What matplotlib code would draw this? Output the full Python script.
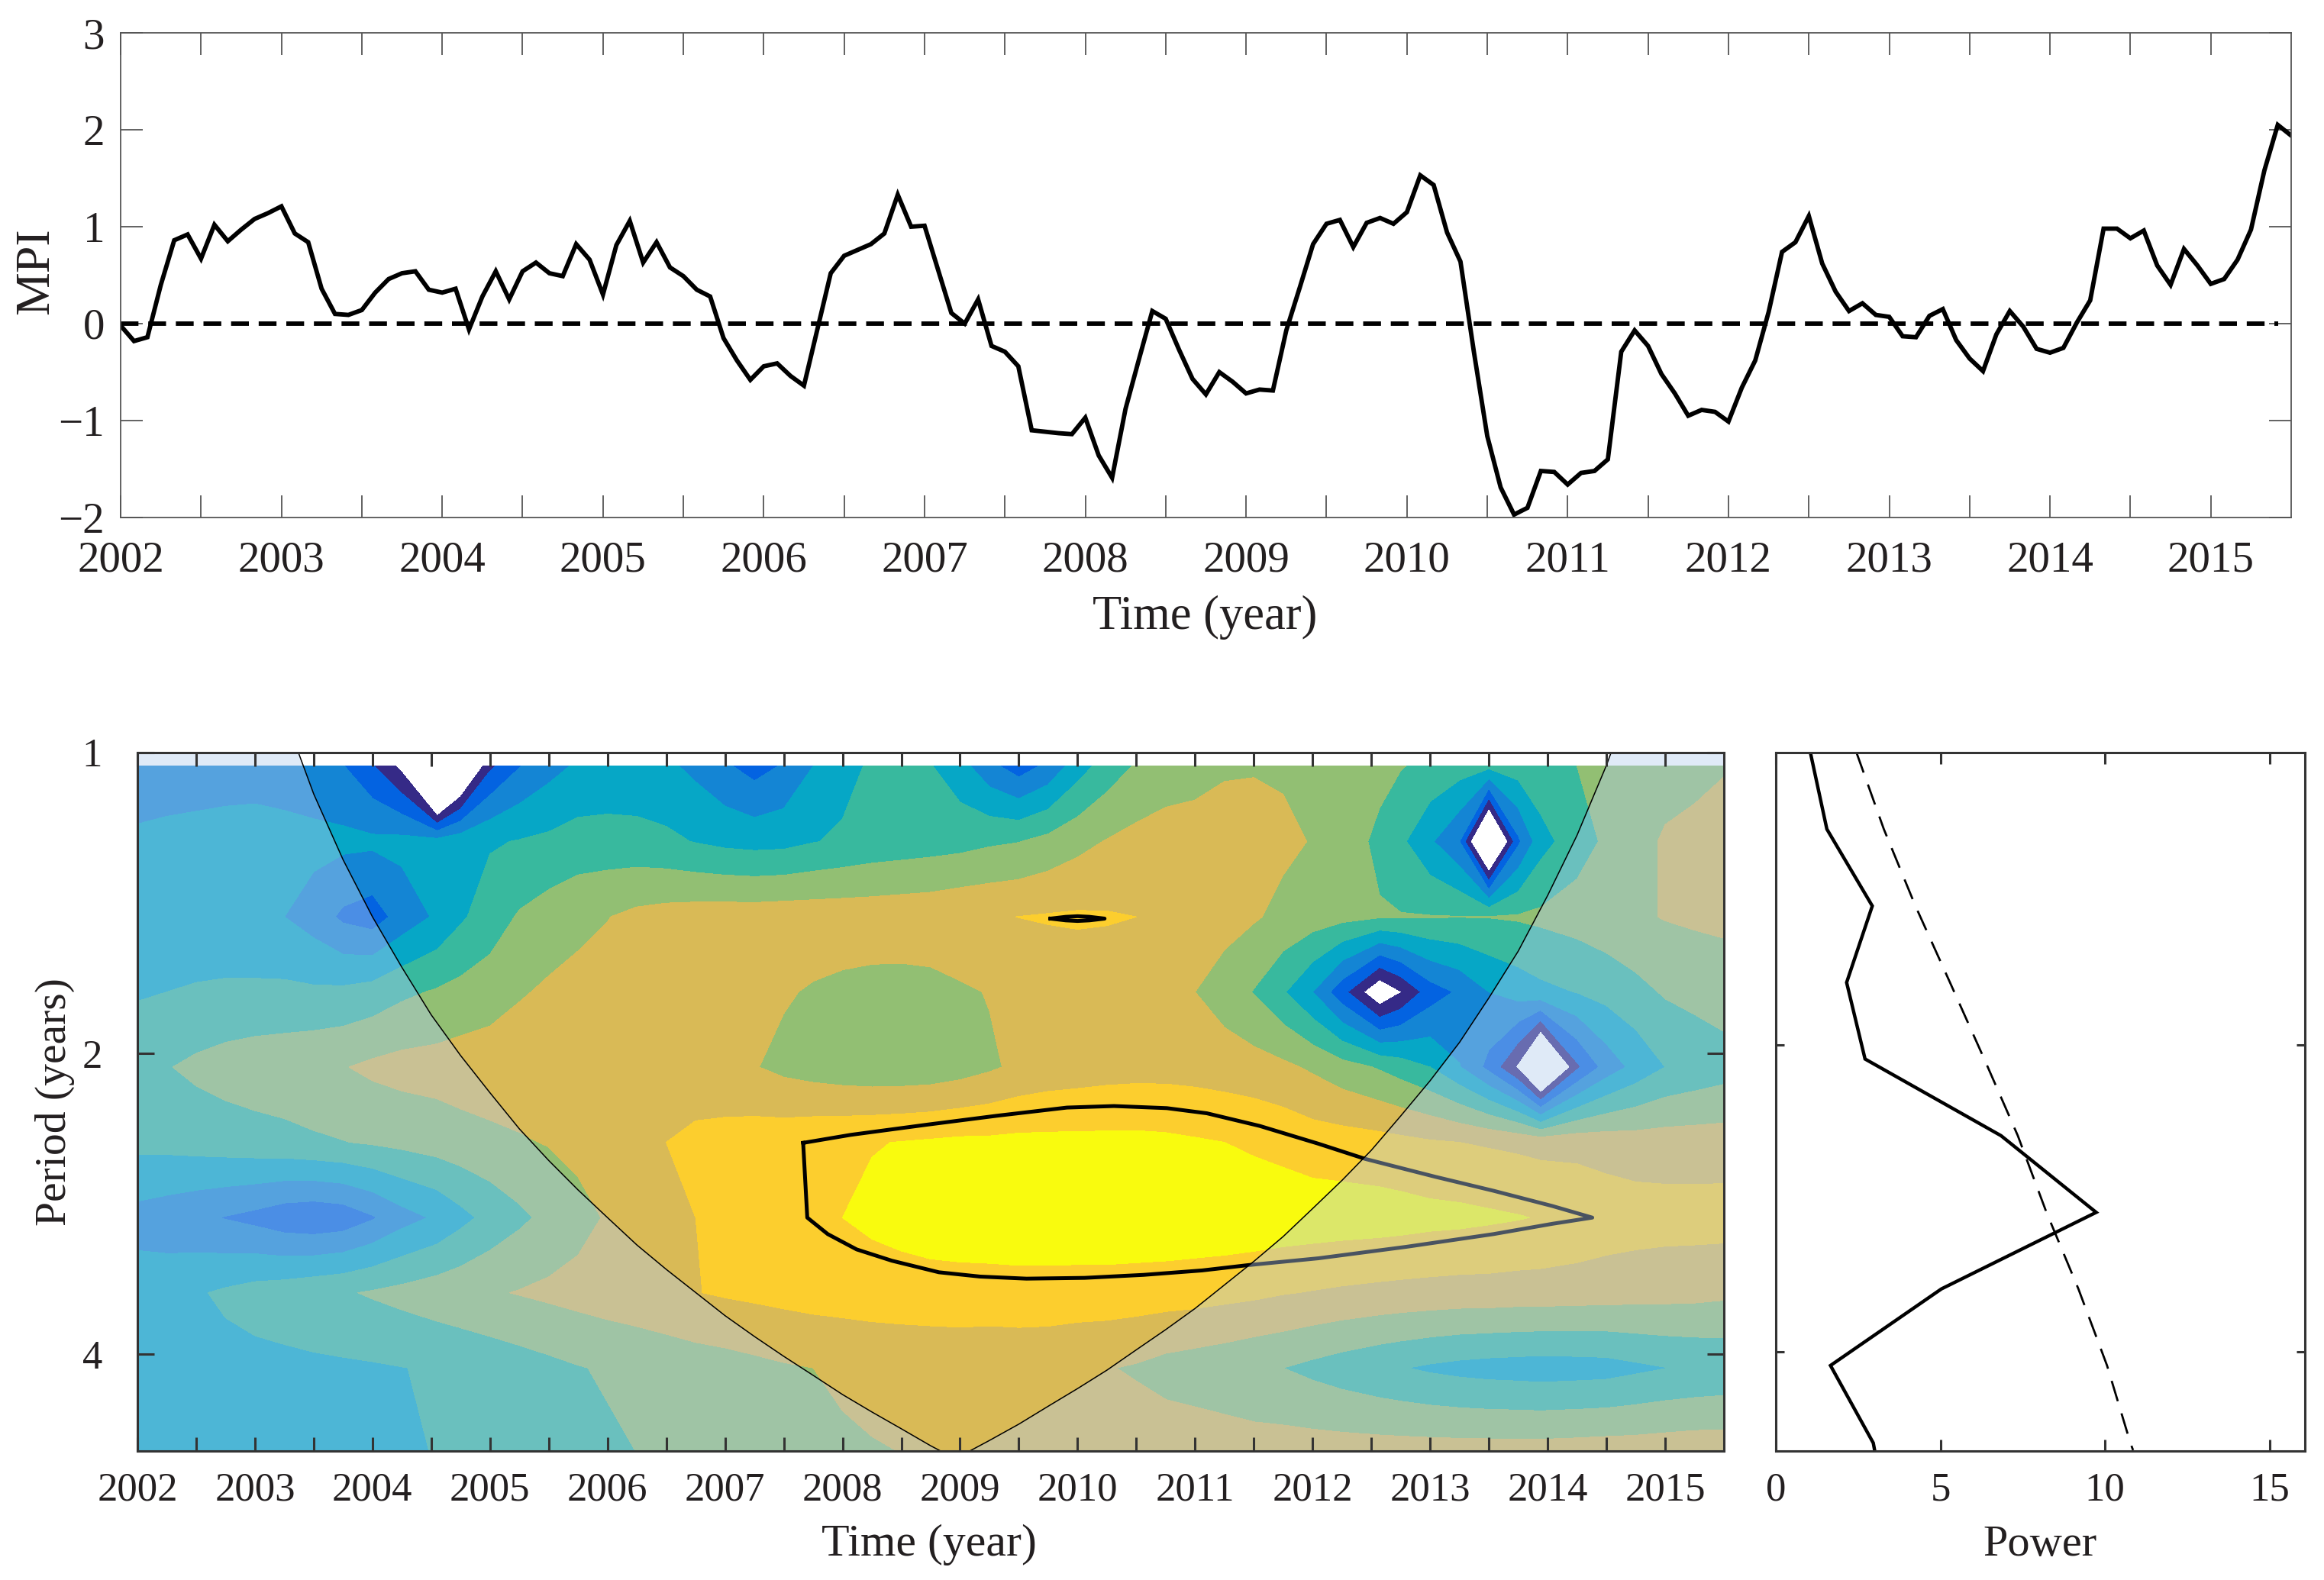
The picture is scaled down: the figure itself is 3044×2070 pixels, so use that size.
#!/usr/bin/env python3
"""MPI time series with its wavelet power spectrum and global power."""

import numpy as np
import matplotlib
matplotlib.use('Agg')
import matplotlib.pyplot as plt

W, H = 3044, 2070
plt.rcParams['font.family'] = ['Liberation Serif', 'DejaVu Serif']

TEXT = '#231f20'

# monthly MPI, 2002-01 onwards
mpi = [
    -0.02, -0.18, -0.14, 0.40, 0.86, 0.92, 0.67, 1.02, 0.85, 0.97, 1.08, 1.14,
    1.21, 0.93, 0.84, 0.36, 0.10, 0.09, 0.14, 0.32, 0.46, 0.52, 0.54, 0.35,
    0.32, 0.36, -0.06, 0.28, 0.54, 0.25, 0.54, 0.63, 0.52, 0.49, 0.82, 0.66,
    0.30, 0.81, 1.06, 0.63, 0.84, 0.58, 0.49, 0.35, 0.28, -0.15, -0.38, -0.58,
    -0.44, -0.41, -0.54, -0.64, -0.06, 0.52, 0.70, 0.76, 0.82, 0.93, 1.33, 1.00,
    1.01, 0.56, 0.11, 0.00, 0.25, -0.23, -0.29, -0.44, -1.10, -1.115, -1.13, -1.14,
    -0.97, -1.36, -1.59, -0.88, -0.37, 0.13, 0.05, -0.27, -0.57, -0.73, -0.50, -0.60,
    -0.72, -0.68, -0.69, -0.07, 0.37, 0.82, 1.03, 1.07, 0.79, 1.04, 1.09, 1.03,
    1.15, 1.53, 1.43, 0.94, 0.64, -0.29, -1.16, -1.69, -1.97, -1.90, -1.52, -1.53,
    -1.66, -1.54, -1.52, -1.40, -0.29, -0.07, -0.23, -0.52, -0.72, -0.95, -0.89, -0.91,
    -1.01, -0.66, -0.38, 0.12, 0.74, 0.84, 1.11, 0.62, 0.33, 0.13, 0.21, 0.09,
    0.07, -0.13, -0.14, 0.08, 0.15, -0.17, -0.36, -0.49, -0.11, 0.13, -0.03, -0.26,
    -0.30, -0.25, 0.01, 0.24, 0.98, 0.98, 0.88, 0.96, 0.60, 0.40, 0.77, 0.60,
    0.41, 0.46, 0.66, 0.97, 1.58, 2.05, 1.94,
]

# wavelet power grid (log2 power), one row per period
grid_time = [
    2002.0, 2002.25, 2002.5, 2002.75, 2003.0, 2003.25, 2003.5, 2003.75,
    2004.0, 2004.25, 2004.55, 2004.75, 2005.0, 2005.25, 2005.5, 2005.75,
    2006.0, 2006.25, 2006.5, 2006.75, 2007.0, 2007.25, 2007.5, 2007.75,
    2008.0, 2008.25, 2008.5, 2008.75, 2009.0, 2009.25, 2009.5, 2009.75,
    2010.0, 2010.25, 2010.5, 2010.75, 2011.0, 2011.25, 2011.5, 2011.75,
    2012.0, 2012.25, 2012.57, 2012.75, 2013.0, 2013.25, 2013.5, 2013.75,
    2013.94, 2014.25, 2014.5, 2014.75, 2015.0, 2015.25, 2015.5,
]
grid_period = [1.032, 1.227, 1.46, 1.736, 2.064, 2.455, 2.92, 3.472, 4.129, 5.03]

row_0 = [-1.5, -1.5, -1.45, -1.4, -1.4, -1.5, -1.7, -1.95,
         -2.9, -4.3, -10.6, -6.5, -3.2, -2.05, -1.35, -0.85,
         -0.7, -0.7, -0.8, -1.25, -1.85, -2.4, -1.9, -1.0,
         -0.35, 0.15, 0.2, 0.05, -0.6, -1.7, -2.5, -1.75,
         -0.45, 0.45, 1.1, 1.4, 1.55, 1.86, 1.92, 1.88,
         1.6, 1.4, 1.25, 1.05, 0.75, 0.45, 0.25, 0.5,
         0.7, 1.0, 1.3, 1.5, 1.65, 1.8, 1.95]
row_1 = [-0.85, -0.75, -0.7, -0.65, -0.6, -0.65, -0.7, -0.75,
         -0.8, -0.7, -0.6, -0.35, -0.1, 0.05, 0.2, 0.4,
         0.4, 0.35, 0.2, -0.05, -0.25, -0.35, -0.3, -0.05,
         0.15, 0.35, 0.45, 0.55, 0.65, 0.85, 0.97, 1.3,
         1.7, 2.05, 2.3, 2.5, 2.55, 2.55, 2.45, 2.2,
         1.95, 1.45, 0.8, 0.2, -0.85, -2.0, -7.4, -2.2,
         -0.4, 0.6, 1.15, 1.7, 2.1, 2.2, 2.3]
row_2 = [-0.75, -0.7, -0.7, -0.8, -0.9, -1.0, -1.45, -2.2,
         -2.5, -1.6, -0.85, -0.15, 0.5, 1.1, 1.45, 1.75,
         1.97, 2.25, 2.4, 2.5, 2.55, 2.55, 2.6, 2.6,
         2.6, 2.6, 2.65, 2.7, 2.85, 2.92, 3.01, 3.08,
         3.12, 3.08, 3.0, 2.85, 2.6, 2.35, 2.1, 1.75,
         1.5, 1.3, 1.08, 1.05, 1.04, 1.02, 1.03, 1.1,
         1.2, 1.4, 1.6, 1.85, 2.05, 2.15, 2.2]
row_3 = [-0.1, 0.0, 0.1, 0.18, 0.2, 0.2, 0.15, 0.2,
         0.4, 0.8, 1.1, 1.3, 1.5, 1.9, 2.15, 2.3,
         2.4, 2.4, 2.35, 2.3, 2.25, 2.15, 2.1, 1.9,
         1.75, 1.65, 1.6, 1.65, 1.85, 2.05, 2.15, 2.3,
         2.4, 2.4, 2.35, 2.2, 2.0, 1.55, 0.95, 0.1,
         -1.0, -2.65, -5.0, -4.05, -2.5, -1.85, -1.0, -0.55,
         -0.25, 0.03, 0.35, 0.7, 1.1, 1.3, 1.5]
row_4 = [0.7, 0.95, 1.2, 1.4, 1.55, 1.65, 1.8, 1.95,
         2.2, 2.35, 2.4, 2.5, 2.6, 2.65, 2.7, 2.7,
         2.7, 2.65, 2.6, 2.5, 2.3, 2.05, 1.75, 1.55,
         1.4, 1.3, 1.3, 1.35, 1.55, 1.85, 2.2, 2.4,
         2.5, 2.6, 2.65, 2.65, 2.6, 2.5, 2.4, 2.2,
         1.85, 1.4, 0.9, 0.55, 0.0, -0.95, -2.3, -4.2,
         -7.5, -3.2, -1.6, -0.7, 0.0, 0.3, 0.55]
row_5 = [0.25, 0.3, 0.4, 0.5, 0.6, 0.7, 0.85, 0.97,
         1.1, 1.25, 1.45, 1.6, 1.75, 1.9, 2.05, 2.3,
         2.6, 2.8, 3.0, 3.2, 3.35, 3.5, 3.6, 3.75,
         3.85, 3.95, 4.03, 4.12, 4.2, 4.2, 4.25, 4.25,
         4.25, 4.25, 4.25, 4.2, 4.1, 4.0, 3.85, 3.7,
         3.5, 3.45, 3.35, 3.25, 3.1, 3.0, 2.9, 2.8,
         2.7, 2.7, 2.6, 2.5, 2.5, 2.5, 2.5]
row_6 = [-1.35, -1.55, -1.8, -2.05, -2.3, -2.65, -2.8, -2.65,
         -2.1, -1.4, -0.85, -0.3, 0.3, 0.8, 1.25, 1.65,
         2.1, 2.4, 2.7, 3.0, 3.3, 3.55, 3.75, 3.9,
         4.0, 4.2, 4.4, 4.55, 4.65, 4.7, 4.7, 4.7,
         4.75, 4.75, 4.75, 4.75, 4.7, 4.7, 4.65, 4.6,
         4.55, 4.5, 4.45, 4.4, 4.3, 4.25, 4.15, 4.05,
         3.95, 3.75, 3.55, 3.45, 3.4, 3.4, 3.41]
row_7 = [-0.55, -0.4, -0.1, 0.15, 0.4, 0.55, 0.75, 0.9,
         1.1, 1.3, 1.55, 1.7, 1.9, 2.05, 2.2, 2.35,
         2.5, 2.65, 2.8, 2.97, 3.1, 3.2, 3.3, 3.4,
         3.45, 3.5, 3.5, 3.55, 3.55, 3.55, 3.6, 3.6,
         3.55, 3.55, 3.5, 3.45, 3.4, 3.3, 3.2, 3.05,
         2.95, 2.85, 2.75, 2.7, 2.65, 2.6, 2.6, 2.55,
         2.55, 2.5, 2.45, 2.4, 2.35, 2.3, 2.2]
row_8 = [-0.4, -0.35, -0.3, -0.3, -0.3, -0.25, -0.2, -0.15,
         -0.1, -0.02, 0.1, 0.2, 0.35, 0.55, 0.75, 0.95,
         1.1, 1.2, 1.35, 1.5, 1.6, 1.75, 1.9, 2.0,
         2.1, 2.2, 2.3, 2.3, 2.35, 2.3, 2.3, 2.25,
         2.15, 2.05, 1.9, 1.65, 1.5, 1.35, 1.15, 1.0,
         0.75, 0.5, 0.2, 0.05, -0.15, -0.3, -0.4, -0.45,
         -0.5, -0.45, -0.4, -0.2, -0.02, 0.1, 0.2]
row_9 = [-0.55, -0.55, -0.55, -0.55, -0.5, -0.5, -0.45, -0.45,
         -0.4, -0.3, 0.08, 0.1, 0.25, 0.4, 0.55, 0.7,
         0.85, 1.0, 1.2, 1.35, 1.5, 1.6, 1.75, 1.85,
         1.9, 1.95, 2.0, 2.15, 2.3, 2.4, 2.4, 2.5,
         2.5, 2.5, 2.55, 2.6, 2.6, 2.55, 2.5, 2.5,
         2.5, 2.5, 2.5, 2.5, 2.5, 2.5, 2.5, 2.5,
         2.5, 2.55, 2.6, 2.6, 2.65, 2.7, 2.7]

power_levels = [-4, -3, -2, -1, 0, 1, 2, 3, 4]
level_colors = ['#ffffff', '#352a87', '#0363e1', '#1485d4', '#06a7c6',
                '#38b99e', '#92bf73', '#d9ba56', '#fcce2e', '#f9fb0e']

# 95% significance contour
sig_time = [2007.665, 2007.70, 2007.874, 2008.12, 2008.42, 2008.82, 2009.17, 2009.565,
            2010.06, 2010.56, 2011.06, 2011.45, 2012.05, 2012.80, 2013.54, 2014.04,
            2014.38, 2014.04, 2013.54, 2013.045, 2012.45, 2012.05, 2011.55, 2011.10,
            2010.76, 2010.31, 2009.91, 2009.315, 2008.72, 2008.07, 2007.665]
sig_period = [2.458, 2.920, 3.033, 3.142, 3.225, 3.312, 3.345, 3.361,
              3.355, 3.332, 3.298, 3.258, 3.207, 3.123, 3.033, 2.962,
              2.920, 2.843, 2.745, 2.658, 2.551, 2.463, 2.364, 2.296,
              2.269, 2.258, 2.266, 2.309, 2.357, 2.413, 2.458]
blip_time = [2009.77, 2009.9, 2010.0, 2010.1, 2010.23, 2010.1, 2010.0, 2009.9, 2009.77]
blip_period = [1.466, 1.46, 1.458, 1.46, 1.466, 1.472, 1.474, 1.472, 1.466]

# cone of influence
coi_time = [2003.37, 2003.5, 2003.75, 2004.0, 2004.25, 2004.5, 2004.75, 2005.0,
            2005.25, 2005.5, 2005.75, 2006.0, 2006.25, 2006.5, 2006.75, 2007.0,
            2007.25, 2007.5, 2007.75, 2008.0, 2008.25, 2008.5, 2008.75, 2008.96,
            2009.0, 2009.25, 2009.5, 2009.75, 2010.0, 2010.25, 2010.5, 2010.75,
            2011.0, 2011.25, 2011.5, 2011.75, 2012.0, 2012.25, 2012.5, 2012.75,
            2013.0, 2013.25, 2013.5, 2013.75, 2014.0, 2014.25, 2014.5, 2014.54]
coi_period = [1.00, 1.10, 1.28, 1.46, 1.64, 1.83, 2.01, 2.19,
              2.38, 2.56, 2.74, 2.92, 3.11, 3.29, 3.47, 3.66,
              3.84, 4.02, 4.20, 4.39, 4.57, 4.75, 4.94, 5.09,
              5.06, 4.88, 4.70, 4.51, 4.33, 4.15, 3.96, 3.78,
              3.60, 3.41, 3.23, 3.05, 2.86, 2.68, 2.50, 2.31,
              2.13, 1.95, 1.76, 1.58, 1.39, 1.21, 1.03, 1.00]

# global wavelet spectrum
global_period = [1.032, 1.227, 1.46, 1.736, 2.064, 2.455, 2.92, 3.472, 4.129, 4.92, 5.0]
global_power = [1.05, 1.55, 2.93, 2.15, 2.71, 6.84, 9.73, 5.03, 1.66, 2.96, 3.0]
global_signif = [2.45, 3.28, 4.24, 5.29, 6.33, 7.35, 8.22, 9.19, 10.06, 10.77, 10.85]

year_ticks = list(range(2002, 2016))
half_ticks = [y + 0.5 for y in range(2002, 2016)]


def px_axes(fig, left, right, top, bottom):
    return fig.add_axes([left / W, 1 - bottom / H, (right - left) / W, (bottom - top) / H])


def style_axes(ax, color, lw, xlen, ylen, size, xpad, ypad):
    ax.tick_params(axis='both', which='both', direction='in', top=True, right=True,
                   width=lw, color=color, labelsize=size, labelcolor=TEXT)
    ax.tick_params(axis='x', which='both', length=xlen, pad=xpad)
    ax.tick_params(axis='y', which='both', length=ylen, pad=ypad)
    for spine in ax.spines.values():
        spine.set_linewidth(lw)
        spine.set_color(color)


fig = plt.figure(figsize=(W / 100, H / 100), dpi=100)

# top: MPI series
ax1 = px_axes(fig, 158, 3001, 43, 678)
t_month = 2002 + np.arange(len(mpi)) / 12
ax1.plot(t_month, mpi, color='black', linewidth=4.2, solid_joinstyle='miter')
ax1.plot([2002, 2015.42], [0, 0], color='black', linewidth=4.2, dashes=(4.0, 2.2))
ax1.set_xlim(2002, 2015.5)
ax1.set_ylim(-2, 3)
ax1.set_xticks(year_ticks)
ax1.set_xticks(half_ticks[:-1], minor=True)
ax1.set_yticks([-2, -1, 0, 1, 2, 3])
ax1.set_yticklabels(['\u22122', '\u22121', '0', '1', '2', '3'])
style_axes(ax1, '#555555', 1.3, 21, 21, 41, 22, 15)

# bottom left: wavelet power
ax2 = px_axes(fig, 180, 2258, 986, 1901)
power = np.array([row_0, row_1, row_2, row_3, row_4, row_5, row_6, row_7, row_8, row_9])
ax2.contourf(grid_time, np.log2(grid_period), power, levels=power_levels,
             colors=level_colors, extend='both', zorder=1)
ax2.plot(sig_time, np.log2(sig_period), color='black', linewidth=3.6, zorder=2.1)
ax2.plot(blip_time, np.log2(blip_period), color='black', linewidth=3.6, zorder=2.1)
mask_time = [2002] + coi_time + [2015.5, 2015.5, 2002]
mask_period = [1] + coi_period + [1, 5.3, 5.3]
ax2.fill(mask_time, np.log2(mask_period), color=(0.70, 0.80, 0.93), alpha=0.41,
         linewidth=0, zorder=2.3)
ax2.plot(coi_time, np.log2(coi_period), color='black', linewidth=1.1, zorder=2.4)
ax2.set_axisbelow(False)
ax2.set_xlim(2002, 2015.5)
ax2.set_ylim(np.log2(5.0), 0)
ax2.set_xticks(year_ticks)
ax2.set_xticks(half_ticks[:-1], minor=True)
ax2.set_yticks(np.log2([1, 2, 4]))
ax2.set_yticklabels(['1', '2', '4'])
style_axes(ax2, '#333333', 2.2, 13, 16, 38, 20, 33)

# bottom right: global power
ax3 = px_axes(fig, 2326, 3019, 986, 1901)
ax3.plot(global_power, np.log2(global_period), color='black', linewidth=3.2, solid_joinstyle='miter')
ax3.plot(global_signif, np.log2(global_period), color='black', linewidth=2.0, dashes=(10, 6))
ax3.set_xlim(0, 16.07)
ax3.set_ylim(np.log2(5.01), np.log2(1.032))
ax3.set_xticks([0, 5, 10, 15])
ax3.set_yticks(np.log2([2, 4]))
ax3.set_yticklabels([])
style_axes(ax3, '#333333', 2.2, 11, 8, 38, 20, 10)

# axis titles
fig.text(1578 / W, 1 - 809 / H, 'Time (year)', fontsize=45, color=TEXT, ha='center', va='center')
fig.text(48 / W, 1 - 355 / H, 'MPI', fontsize=46, color=TEXT, rotation=90, ha='center', va='center')
fig.text(1217 / W, 1 - 2024 / H, 'Time (year)', fontsize=43, color=TEXT, ha='center', va='center')
fig.text(72 / W, 1 - 1444 / H, 'Period (years)', fontsize=41.5, color=TEXT, rotation=90, ha='center', va='center')
fig.text(2672 / W, 1 - 2024 / H, 'Power', fontsize=42, color=TEXT, ha='center', va='center')

fig.savefig('out.png', dpi=100)
